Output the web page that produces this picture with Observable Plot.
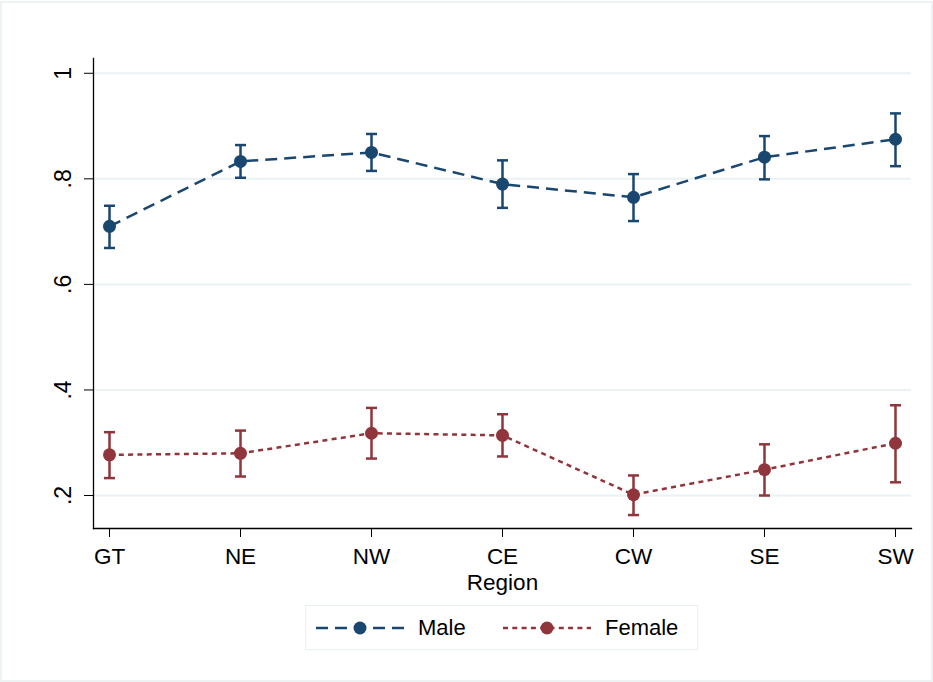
<!DOCTYPE html>
<html>
<head>
<meta charset="utf-8">
<script src="https://cdn.jsdelivr.net/npm/d3@7"></script>
<script src="https://cdn.jsdelivr.net/npm/@observablehq/plot@0.6"></script>
<style>
  html, body { margin: 0; padding: 0; background: #fff; }
  body { width: 933px; height: 682px; position: relative; overflow: hidden; font-family: "Liberation Sans", Arial, sans-serif; }
  #frame { position: absolute; left: 0; top: 1px; width: 929px; height: 677px; border: 2px solid #edf2f3; }
  #chart { position: absolute; left: 0; top: 0; }
  #legend { position: absolute; left: 305px; top: 605px; width: 391px; height: 43px; border: 1.5px solid #e8f0f1; box-sizing: content-box; }
  .item { position: absolute; top: 0; height: 43px; display: flex; align-items: center; font-size: 22px; color: #000; }
  .item svg { display: block; margin-right: 14px; }
</style>
</head>
<body>
<div id="frame"></div>
<div id="chart"></div>
<div id="legend"></div>
<script>
// ---- data ----
const regions = ["GT", "NE", "NW", "CE", "CW", "SE", "SW"];
const maleMean = [0.710, 0.833, 0.850, 0.790, 0.765, 0.841, 0.875];
const maleLow  = [0.669, 0.802, 0.815, 0.745, 0.720, 0.799, 0.824];
const maleHigh = [0.749, 0.864, 0.885, 0.835, 0.809, 0.881, 0.924];
const femaleMean = [0.277, 0.280, 0.318, 0.314, 0.2015, 0.249, 0.299];
const femaleLow  = [0.233, 0.236, 0.270, 0.274, 0.163, 0.200, 0.225];
const femaleHigh = [0.320, 0.323, 0.366, 0.354, 0.238, 0.297, 0.371];
const yTicks = [0.2, 0.4, 0.6, 0.8, 1];
const yTickLabels = [".2", ".4", ".6", ".8", "1"];
const seriesNames = ["Male", "Female"];
const seriesColors = ["#1a476f", "#90353b"];
const seriesDash = ["12,7", "5,4.3"];
const xTitle = "Region";

// ---- build table ----
const series = [
  {name: seriesNames[0], mean: maleMean, lo: maleLow, hi: maleHigh, color: seriesColors[0], dash: seriesDash[0]},
  {name: seriesNames[1], mean: femaleMean, lo: femaleLow, hi: femaleHigh, color: seriesColors[1], dash: seriesDash[1]}
];

const capSymbol = {
  draw(ctx, size) {
    const w = Math.sqrt(size / Math.PI);
    ctx.moveTo(-w, 0);
    ctx.lineTo(w, 0);
  }
};

const font = "Liberation Sans, Arial, sans-serif";
const marks = [
  Plot.gridY(yTicks, {stroke: "#eaf2f3", strokeOpacity: 1, strokeWidth: 2}),
  Plot.frame({anchor: "left", stroke: "#000", strokeWidth: 1.3}),
  Plot.frame({anchor: "bottom", stroke: "#000", strokeWidth: 1.3}),
  Plot.axisY({ticks: yTicks, tickSize: 9, tickFormat: () => "", label: null, stroke: "#000"}),
  Plot.text(yTicks, {y: d => d, text: (d, i) => yTickLabels[i], frameAnchor: "left", dx: -29.5, rotate: -90, fontSize: 23, fill: "#000", textAnchor: "middle", lineAnchor: "middle"}),
  Plot.axisX({tickSize: 9, tickPadding: 11, fontSize: 22.5, label: null}),
  Plot.text([xTitle], {text: d => d, frameAnchor: "bottom", dy: 61, lineAnchor: "bottom", fontSize: 22.5, fill: "#000"})
];

for (const s of series) {
  const rows = regions.map((r, i) => ({region: r, mean: s.mean[i], lo: s.lo[i], hi: s.hi[i]}));
  marks.push(
    Plot.line(rows, {x: "region", y: "mean", stroke: s.color, strokeWidth: 2.5, strokeDasharray: s.dash, strokeLinecap: "butt"}),
    Plot.ruleX(rows, {x: "region", y1: "lo", y2: "hi", stroke: s.color, strokeWidth: 2.5}),
    Plot.dot(rows, {x: "region", y: "hi", symbol: capSymbol, r: 5.5, stroke: s.color, strokeWidth: 2.5, fill: "none"}),
    Plot.dot(rows, {x: "region", y: "lo", symbol: capSymbol, r: 5.5, stroke: s.color, strokeWidth: 2.5, fill: "none"}),
    Plot.dot(rows, {x: "region", y: "mean", r: 6.5, fill: s.color, stroke: "none"})
  );
}

const chart = Plot.plot({
  width: 933,
  height: 600,
  marginTop: 58,
  marginBottom: 72,
  marginLeft: 93,
  marginRight: 22,
  style: {fontFamily: font, fontSize: "23px", color: "#000", background: "transparent", overflow: "visible"},
  x: {type: "point", domain: regions, padding: 0.114, label: null},
  y: {domain: [0.1375, 1.028], label: null},
  marks
});
document.getElementById("chart").appendChild(chart);

// ---- legend ----
const legend = document.getElementById("legend");
const lefts = [10, 197];
series.forEach((s, i) => {
  const item = document.createElement("div");
  item.className = "item";
  item.style.left = lefts[i] + "px";
  const ns = "http://www.w3.org/2000/svg";
  const svg = document.createElementNS(ns, "svg");
  svg.setAttribute("width", 88);
  svg.setAttribute("height", 20);
  const line = document.createElementNS(ns, "line");
  line.setAttribute("x1", 0); line.setAttribute("x2", 88);
  line.setAttribute("y1", 10); line.setAttribute("y2", 10);
  line.setAttribute("stroke", s.color);
  line.setAttribute("stroke-width", 2.5);
  line.setAttribute("stroke-dasharray", s.dash);
  const c = document.createElementNS(ns, "circle");
  c.setAttribute("cx", 44); c.setAttribute("cy", 10); c.setAttribute("r", 6.5);
  c.setAttribute("fill", s.color);
  svg.appendChild(line); svg.appendChild(c);
  item.appendChild(svg);
  const t = document.createElement("span");
  t.textContent = s.name;
  item.appendChild(t);
  legend.appendChild(item);
});
</script>
</body>
</html>
